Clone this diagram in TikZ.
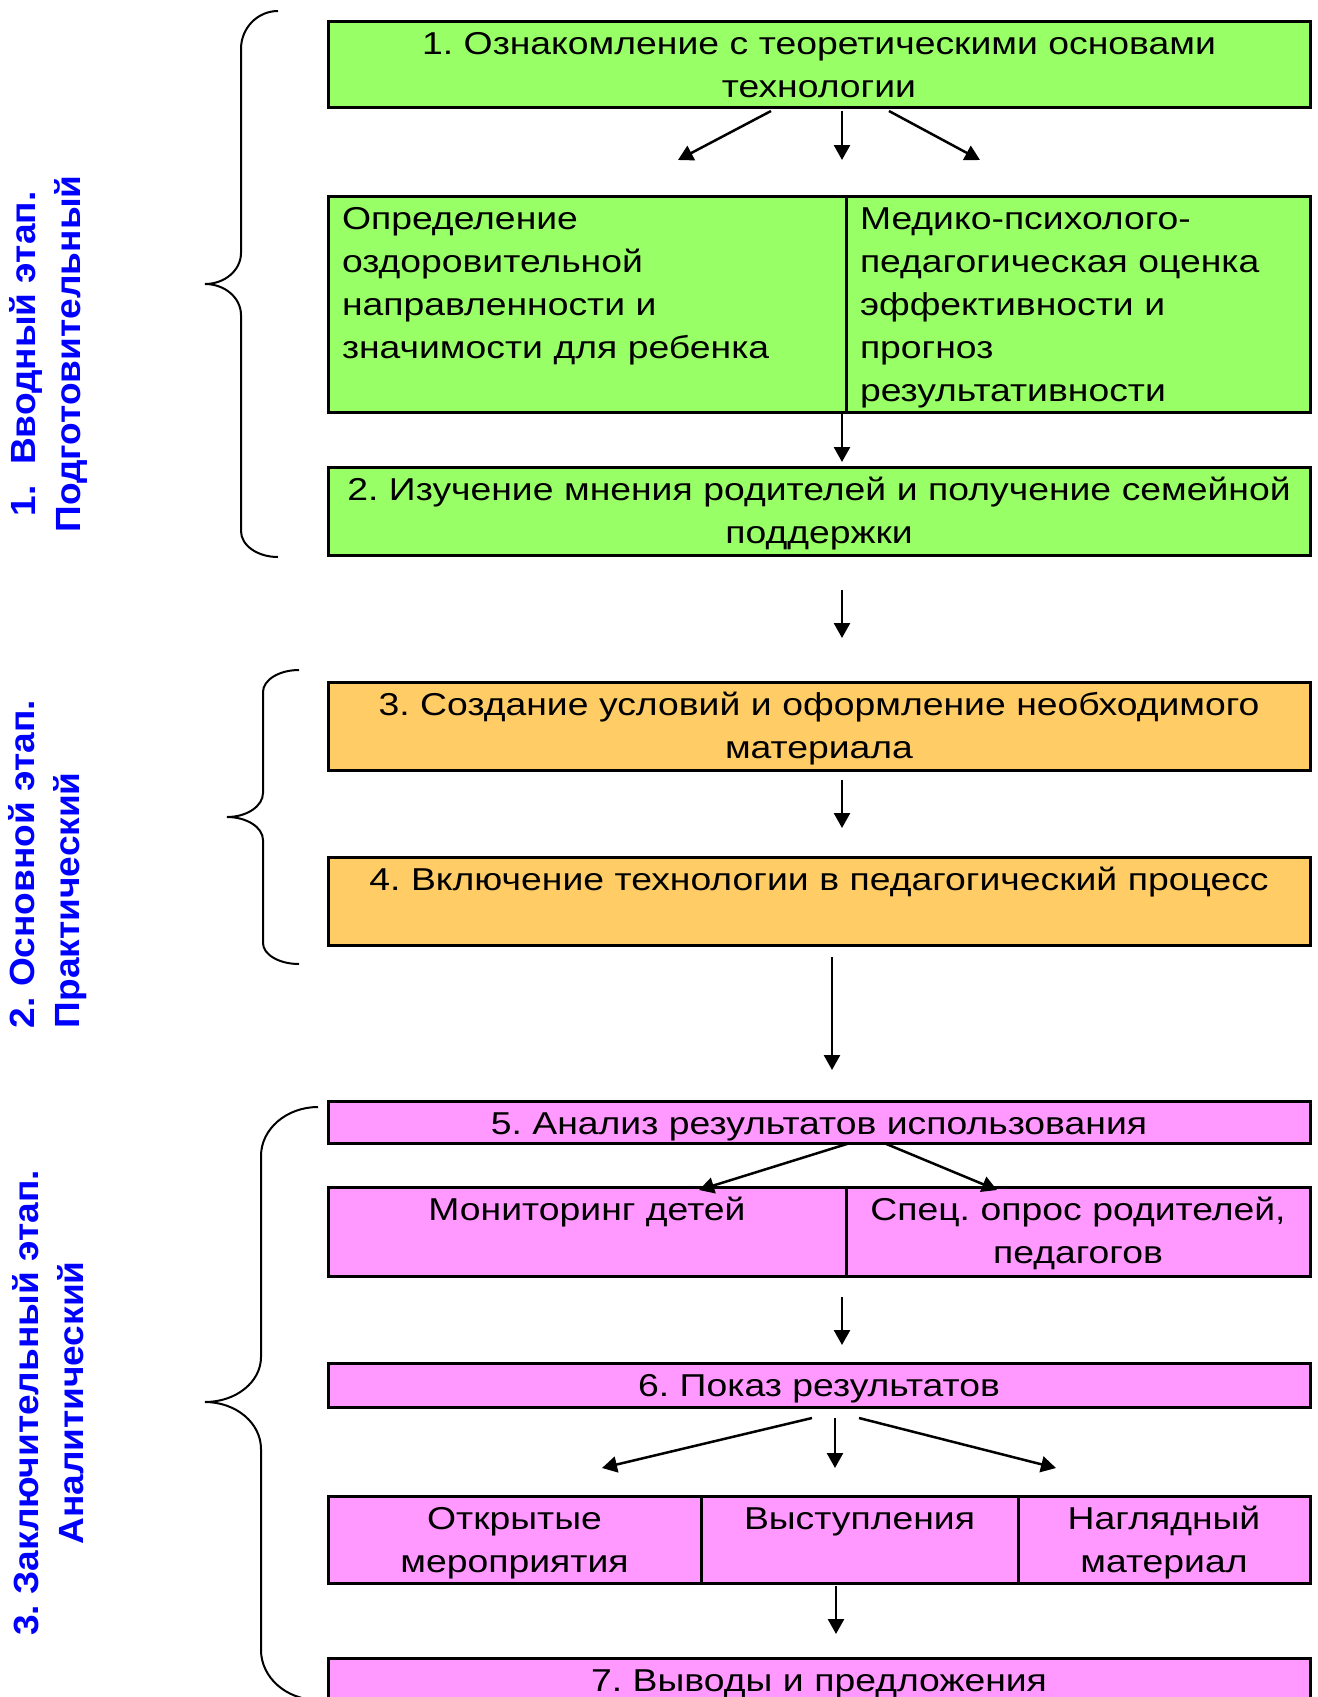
\documentclass[tikz,border=0pt]{standalone}
\usepackage{fontspec}
\setmainfont{Liberation Sans}
\newfontfamily\boxfont{Liberation Sans}[FakeStretch=1.18]
\newfontfamily\stagefont{Liberation Sans Bold}[FakeStretch=1.06]
\usepackage{xcolor}
\usetikzlibrary{arrows.meta}
\frenchspacing

\definecolor{stagegreen}{HTML}{99FF66}
\definecolor{stageorange}{HTML}{FFCC66}
\definecolor{stagepink}{HTML}{FF99FF}
\definecolor{stageblue}{HTML}{0000FF}

\tikzset{
	box/.style={draw, line width=0.06cm, outer sep=0pt, anchor=north west, inner ysep=0pt,
		text height=0.66cm, font=\boxfont\fontsize{18}{24.5}\selectfont},
	cbox/.style={box, inner xsep=0.1cm, align=center},
	lbox/.style={box, inner xsep=0.28cm, align=left},
	arr/.style={line width=0.05cm, -{Triangle[length=0.3cm, width=0.32cm]}},
	brace/.style={line width=0.04cm},
	stage/.style={rotate=90, text=stageblue, font=\stagefont\fontsize{19.9}{25.6}\selectfont}
}

\begin{document}
\begin{tikzpicture}
	\useasboundingbox (0,0) rectangle (26.34,-33.94);

	\node[cbox, fill=stagegreen, text width=19.44cm, text depth=1.06cm] (b1) at (6.56,-0.43) {1. Ознакомление с теоретическими основами\\технологии};
	\node[lbox, fill=stagegreen, text width=9.80cm, text depth=3.66cm] (a1) at (6.56,-3.92) {Определение\\оздоровительной\\направленности и\\значимости для ребенка};
	\node[lbox, fill=stagegreen, text width=8.72cm, text depth=3.66cm] (a2) at (a1.north east) {Медико-психолого-\\педагогическая оценка\\эффективности и\\прогноз\\результативности};
	\node[cbox, fill=stagegreen, text width=19.44cm, text depth=1.10cm] (b2) at (6.56,-9.34) {2. Изучение мнения родителей и получение семейной\\поддержки};
	\node[cbox, fill=stageorange, text width=19.44cm, text depth=1.10cm] (b3) at (6.56,-13.64) {3. Создание условий и оформление необходимого\\материала};
	\node[cbox, fill=stageorange, text width=19.44cm, text depth=1.10cm] (b4) at (6.56,-17.14) {4. Включение технологии в педагогический процесс};
	\node[cbox, fill=stagepink, text width=19.44cm, text depth=0.18cm] (b5) at (6.56,-22.02) {5. Анализ результатов использования};
	\node[cbox, fill=stagepink, text width=10.16cm, text depth=1.12cm] (m1) at (6.56,-23.74) {Мониторинг детей};
	\node[cbox, fill=stagepink, text width=9.08cm, text depth=1.12cm] (m2) at (m1.north east) {Спец. опрос родителей,\\педагогов};
	\node[cbox, fill=stagepink, text width=19.44cm, text depth=0.22cm] (b6) at (6.56,-27.26) {6. Показ результатов};
	\node[cbox, fill=stagepink, text width=7.26cm, text depth=1.08cm] (p1) at (6.56,-29.92) {Открытые\\мероприятия};
	\node[cbox, fill=stagepink, text width=6.14cm, text depth=1.08cm] (p2) at (p1.north east) {Выступления};
	\node[cbox, fill=stagepink, text width=5.64cm, text depth=1.08cm] (p3) at (p2.north east) {Наглядный\\материал};
	\node[cbox, fill=stagepink, text width=19.44cm, text depth=1.10cm] (b7) at (6.56,-33.16) {7. Выводы и предложения};

	\node[stage, align=center] (s1) at (0.96,-7.08) {1.\ \ Вводный этап.\\Подготовительный};
	\node[stage, align=left] (s2) at (0.96,-17.28) {2. Основной этап.\\Практический};
	\node[stage, align=center] (s3) at (0.96,-28.06) {3. Заключительный этап.\\Аналитический};

	\coordinate (b1l) at (15.42,-2.22);
	\coordinate (b1m) at (16.84,-2.22);
	\coordinate (b1r) at (17.78,-2.22);
	\coordinate (a1t) at (13.56,-3.20);
	\coordinate (amt) at (16.84,-3.20);
	\coordinate (a2t) at (19.60,-3.20);
	\coordinate (a1b) at (16.84,-8.26);
	\coordinate (b2t) at (16.84,-9.24);
	\coordinate (b2b) at (16.84,-11.80);
	\coordinate (b3t) at (16.84,-12.76);
	\coordinate (b3b) at (16.84,-15.60);
	\coordinate (b4t) at (16.84,-16.56);
	\coordinate (b4b) at (16.64,-19.14);
	\coordinate (b5t) at (16.64,-21.40);
	\coordinate (b5l) at (17.00,-22.86);
	\coordinate (b5r) at (17.68,-22.86);
	\coordinate (m1t) at (13.98,-23.80);
	\coordinate (m2t) at (19.94,-23.80);
	\coordinate (m1b) at (16.84,-25.94);
	\coordinate (b6t) at (16.84,-26.90);
	\coordinate (b6l) at (16.24,-28.36);
	\coordinate (b6m) at (16.70,-28.36);
	\coordinate (b6r) at (17.18,-28.36);
	\coordinate (p1t) at (12.04,-29.36);
	\coordinate (p2t) at (16.70,-29.36);
	\coordinate (p3t) at (21.12,-29.36);
	\coordinate (p2b) at (16.72,-31.72);
	\coordinate (b7t) at (16.72,-32.68);

	\draw[arr] (b1l) -- (a1t);
	\draw[arr] (b1m) -- (amt);
	\draw[arr] (b1r) -- (a2t);
	\draw[arr] (a1b) -- (b2t);
	\draw[arr] (b2b) -- (b3t);
	\draw[arr] (b3b) -- (b4t);
	\draw[arr] (b4b) -- (b5t);
	\draw[arr] (b5l) -- (m1t);
	\draw[arr] (b5r) -- (m2t);
	\draw[arr] (m1b) -- (b6t);
	\draw[arr] (b6l) -- (p1t);
	\draw[arr] (b6m) -- (p2t);
	\draw[arr] (b6r) -- (p3t);
	\draw[arr] (p2b) -- (b7t);

	\draw[brace] (5.56,-0.22) .. controls (5.15,-0.22) and (4.82,-0.56) .. (4.82,-0.98) -- (4.82,-5.06)
		.. controls (4.82,-5.40) and (4.50,-5.68) .. (4.10,-5.68) .. controls (4.50,-5.68) and (4.82,-5.96) .. (4.82,-6.30)
		-- (4.82,-10.62) .. controls (4.82,-10.91) and (5.15,-11.14) .. (5.56,-11.14);
	\draw[brace] (5.98,-13.40) .. controls (5.58,-13.40) and (5.26,-13.60) .. (5.26,-13.84) -- (5.26,-15.86)
		.. controls (5.26,-16.12) and (4.94,-16.34) .. (4.54,-16.34) .. controls (4.94,-16.34) and (5.26,-16.55) .. (5.26,-16.80)
		-- (5.26,-18.86) .. controls (5.26,-19.09) and (5.58,-19.28) .. (5.98,-19.28);
	\draw[brace] (6.36,-22.14) .. controls (5.73,-22.14) and (5.22,-22.58) .. (5.22,-23.12) -- (5.22,-27.14)
		.. controls (5.22,-27.64) and (4.72,-28.04) .. (4.10,-28.04) .. controls (4.72,-28.04) and (5.22,-28.46) .. (5.22,-28.98)
		-- (5.22,-33.00) .. controls (5.22,-33.55) and (5.73,-34.00) .. (6.36,-34.00);
\end{tikzpicture}
\end{document}
